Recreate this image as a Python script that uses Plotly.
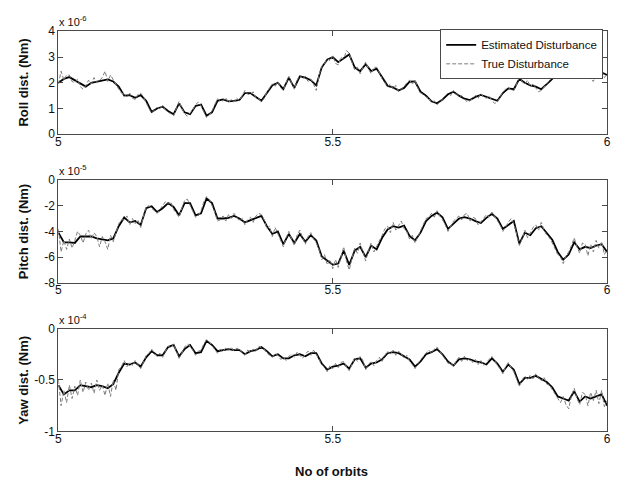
import numpy as np
import plotly.graph_objects as go

# Orbit sample grids (estimator output is coarser than the truth model)
orbits_est = np.round(np.linspace(5.0, 6.0, 101), 3)
orbits_true = np.round(np.linspace(5.0, 6.0, 201), 4)

# Roll disturbance torque, units of 1e-6 Nm
roll_est = [
    2.0, 2.15, 2.22, 2.1, 1.95, 1.85, 2.0, 2.05, 2.1, 2.13,
    2.05, 1.85, 1.5, 1.52, 1.42, 1.52, 1.3, 0.87, 1.0, 1.07,
    0.9, 0.78, 1.2, 0.85, 0.78, 1.1, 1.15, 0.72, 0.85, 1.3,
    1.35, 1.28, 1.3, 1.33, 1.6, 1.6, 1.45, 1.3, 1.6, 1.9,
    2.0, 1.75, 2.2, 1.8, 2.25, 2.2, 2.1, 1.9, 2.6, 2.9,
    3.0, 2.8, 2.95, 3.1, 2.6, 2.45, 2.72, 2.45, 2.55, 2.22,
    1.88, 1.82, 1.7, 1.8, 2.04, 2.05, 1.65, 1.5, 1.28, 1.2,
    1.35, 1.55, 1.65, 1.5, 1.38, 1.33, 1.45, 1.53, 1.45, 1.35,
    1.3, 1.6, 1.78, 1.75, 2.15, 2.0, 1.9, 1.85, 1.75, 1.95,
    2.15, 2.4, 2.55, 2.4, 2.3, 2.35, 2.3, 2.2, 2.3, 2.4, 2.3,
]
roll_true = [
    1.95, 2.45, 2.1, 2.3, 2.3, 2.05, 2.0, 2.15, 1.85, 1.75,
    1.9, 2.1, 1.95, 2.2, 2.0, 2.1, 2.2, 2.45, 2.05, 2.3,
    2.1, 1.95, 1.75, 1.6, 1.55, 1.45, 1.6, 1.4, 1.35, 1.55,
    1.6, 1.45, 1.2, 1.0, 0.82, 0.95, 1.05, 0.98, 1.12, 0.95,
    0.85, 0.8, 0.72, 1.0, 1.28, 1.0, 0.8, 0.7, 0.82, 0.95,
    1.15, 1.25, 1.1, 0.9, 0.65, 0.75, 0.9, 1.15, 1.38, 1.3,
    1.3, 1.42, 1.22, 1.35, 1.25, 1.4, 1.3, 1.5, 1.7, 1.55,
    1.55, 1.65, 1.4, 1.38, 1.25, 1.4, 1.65, 1.8, 1.95, 1.85,
    2.05, 1.8, 1.7, 2.0, 2.25, 2.0, 1.75, 2.1, 2.3, 2.15,
    2.25, 2.05, 2.15, 1.95, 1.7, 2.3, 2.65, 2.75, 2.95, 2.85,
    3.05, 2.75, 2.7, 3.0, 2.9, 3.25, 3.15, 2.8, 2.5, 2.6,
    2.35, 2.6, 2.8, 2.55, 2.35, 2.6, 2.6, 2.4, 2.15, 2.0,
    1.85, 1.95, 1.75, 1.9, 1.65, 1.75, 1.85, 2.0, 2.1, 1.95,
    2.1, 1.8, 1.6, 1.55, 1.45, 1.4, 1.22, 1.3, 1.15, 1.25,
    1.4, 1.5, 1.6, 1.5, 1.7, 1.55, 1.45, 1.5, 1.35, 1.25,
    1.3, 1.42, 1.5, 1.4, 1.58, 1.45, 1.4, 1.5, 1.3, 1.2,
    1.25, 1.45, 1.65, 1.75, 1.82, 1.7, 1.7, 1.95, 2.2, 2.05,
    1.95, 2.1, 1.85, 1.95, 1.8, 1.65, 1.7, 1.85, 2.0, 2.1,
    2.2, 2.3, 2.45, 2.6, 2.6, 2.45, 2.35, 2.2, 2.25, 2.45,
    2.4, 2.2, 2.25, 2.4, 2.15, 2.05, 2.35, 2.5, 2.45, 2.2,
    2.35,
]

# Pitch disturbance torque, units of 1e-5 Nm
pitch_est = [
    -4.1, -4.85, -4.85, -4.9, -4.4, -4.4, -4.4, -4.55, -4.6, -4.7,
    -4.55, -3.6, -2.92, -3.3, -3.2, -3.5, -2.2, -2.05, -2.5, -2.2,
    -1.8, -2.1, -2.75, -1.8, -1.8, -2.75, -2.6, -1.45, -1.8, -3.0,
    -3.0, -2.95, -2.8, -3.0, -3.3, -3.15, -3.0, -2.8, -3.6, -4.2,
    -4.0, -5.0, -4.2, -4.9, -4.2, -4.8, -4.3, -4.7, -5.95, -6.3,
    -6.6, -6.5, -5.5, -6.6, -5.5, -5.2, -6.0, -5.1, -5.4, -4.5,
    -3.85, -3.6, -3.7, -3.55, -4.35, -4.7, -4.1, -3.2, -2.8, -2.55,
    -2.9, -3.8, -3.4, -3.0, -2.9, -3.0, -3.2, -3.35, -2.95, -2.65,
    -3.0, -3.8, -3.5, -3.2, -4.95, -4.1, -4.3, -3.75, -3.6, -4.1,
    -4.65, -5.6, -6.2, -5.8, -4.85, -5.4, -5.2, -5.3, -5.1, -5.0, -5.6,
]
pitch_true = [
    -3.8, -5.6, -4.7, -5.4, -4.6, -5.3, -4.7, -4.0, -4.3, -4.9,
    -4.2, -3.9, -4.6, -4.1, -4.4, -5.2, -4.4, -4.8, -5.4, -4.3,
    -4.8, -4.0, -3.4, -3.1, -3.1, -2.8, -3.5, -3.0, -3.4, -3.1,
    -3.7, -2.8, -2.1, -2.0, -2.2, -2.4, -2.6, -2.3, -2.0, -1.7,
    -1.9, -1.7, -2.3, -2.6, -2.9, -2.2, -1.6, -1.5, -2.0, -2.5,
    -2.9, -2.8, -2.4, -1.7, -1.3, -1.5, -2.0, -2.5, -3.2, -3.1,
    -2.8, -3.2, -2.7, -3.0, -2.6, -2.9, -3.2, -3.0, -3.5, -3.1,
    -2.9, -3.3, -2.8, -2.6, -2.7, -3.1, -3.8, -3.6, -4.4, -3.7,
    -4.2, -4.6, -5.2, -4.5, -4.0, -4.6, -5.1, -4.3, -3.9, -4.5,
    -5.0, -4.4, -4.1, -4.6, -4.9, -5.4, -6.2, -5.8, -6.6, -6.2,
    -6.9, -6.2, -6.8, -6.0, -5.2, -6.3, -7.0, -6.1, -5.3, -5.7,
    -4.9, -5.6, -6.3, -5.5, -4.9, -5.6, -5.2, -4.8, -4.3, -3.8,
    -3.6, -4.1, -3.3, -3.9, -3.5, -3.2, -3.8, -4.0, -4.6, -4.3,
    -4.9, -4.4, -3.9, -3.5, -3.0, -2.9, -2.6, -2.9, -2.4, -2.8,
    -3.1, -3.5, -4.0, -3.6, -3.2, -3.0, -2.8, -3.1, -2.7, -2.6,
    -3.2, -2.9, -3.0, -3.5, -3.2, -3.0, -2.7, -2.9, -2.5, -2.8,
    -3.2, -3.5, -4.0, -3.6, -3.3, -3.0, -3.4, -4.2, -5.1, -4.6,
    -3.9, -4.5, -4.1, -3.7, -3.5, -3.9, -3.3, -3.9, -4.3, -4.5,
    -4.9, -5.3, -5.8, -6.0, -6.5, -5.9, -5.6, -5.1, -4.5, -5.2,
    -5.7, -4.9, -5.0, -5.9, -5.0, -5.6, -4.7, -5.3, -4.8, -5.8,
    -5.4,
]

# Yaw disturbance torque, units of 1e-4 Nm
yaw_est = [
    -0.55, -0.64, -0.6, -0.6, -0.55, -0.56, -0.57, -0.55, -0.56, -0.58,
    -0.54, -0.43, -0.34, -0.35, -0.33, -0.37, -0.28, -0.22, -0.26, -0.26,
    -0.18, -0.16, -0.27, -0.2, -0.16, -0.24, -0.23, -0.12, -0.16, -0.22,
    -0.21, -0.2, -0.21, -0.21, -0.25, -0.22, -0.21, -0.18, -0.22, -0.27,
    -0.25, -0.29, -0.29, -0.26, -0.25, -0.27, -0.24, -0.24, -0.34, -0.4,
    -0.37, -0.36, -0.34, -0.39, -0.3, -0.29, -0.38, -0.34, -0.33, -0.3,
    -0.24, -0.23, -0.24, -0.27, -0.3, -0.37, -0.32, -0.25, -0.23, -0.2,
    -0.25, -0.32, -0.36, -0.3, -0.29, -0.3, -0.32, -0.33, -0.35, -0.29,
    -0.34, -0.42, -0.35, -0.4, -0.54, -0.48, -0.48, -0.46, -0.49, -0.52,
    -0.57, -0.66, -0.68, -0.7, -0.61, -0.71, -0.66, -0.68, -0.66, -0.64, -0.75,
]
yaw_true = [
    -0.5, -0.75, -0.6, -0.72, -0.55, -0.68, -0.56, -0.65, -0.5, -0.62,
    -0.52, -0.6, -0.53, -0.63, -0.5, -0.6, -0.55, -0.65, -0.53, -0.66,
    -0.5, -0.6, -0.4, -0.37, -0.31, -0.37, -0.33, -0.36, -0.31, -0.35,
    -0.39, -0.33, -0.26, -0.24, -0.2, -0.24, -0.27, -0.24, -0.28, -0.22,
    -0.17, -0.19, -0.15, -0.22, -0.29, -0.24, -0.18, -0.15, -0.17, -0.21,
    -0.26, -0.22, -0.21, -0.15, -0.11, -0.13, -0.17, -0.2, -0.24, -0.2,
    -0.22, -0.19, -0.21, -0.18, -0.22, -0.19, -0.2, -0.24, -0.26, -0.21,
    -0.23, -0.2, -0.22, -0.17, -0.19, -0.2, -0.24, -0.26, -0.28, -0.24,
    -0.26, -0.3, -0.28, -0.31, -0.27, -0.25, -0.28, -0.23, -0.26, -0.29,
    -0.25, -0.22, -0.26, -0.21, -0.25, -0.3, -0.35, -0.38, -0.42, -0.36,
    -0.39, -0.34, -0.38, -0.33, -0.32, -0.37, -0.41, -0.35, -0.28, -0.32,
    -0.27, -0.31, -0.4, -0.35, -0.32, -0.36, -0.31, -0.28, -0.32, -0.26,
    -0.22, -0.25, -0.21, -0.26, -0.22, -0.25, -0.29, -0.26, -0.32, -0.35,
    -0.39, -0.34, -0.3, -0.27, -0.24, -0.21, -0.24, -0.2, -0.18, -0.22,
    -0.26, -0.29, -0.34, -0.33, -0.37, -0.31, -0.28, -0.32, -0.27, -0.31,
    -0.29, -0.33, -0.3, -0.35, -0.31, -0.36, -0.33, -0.3, -0.27, -0.31,
    -0.36, -0.39, -0.44, -0.37, -0.33, -0.38, -0.42, -0.49, -0.56, -0.5,
    -0.46, -0.5, -0.45, -0.49, -0.44, -0.48, -0.51, -0.47, -0.54, -0.55,
    -0.59, -0.63, -0.68, -0.72, -0.66, -0.74, -0.78, -0.65, -0.58, -0.68,
    -0.74, -0.62, -0.64, -0.75, -0.62, -0.7, -0.6, -0.73, -0.6, -0.76,
    -0.7,
]

panel_titles = ["Roll dist. (Nm)", "Pitch dist. (Nm)", "Yaw dist. (Nm)"]
panel_exponents = ["-6", "-5", "-4"]
panel_ranges = [[0, 4], [-8, 0], [-1, 0]]
panel_ticks = [[0, 1, 2, 3, 4], [-8, -6, -4, -2, 0], [-1, -0.5, 0]]
orbit_ticks = [5, 5.5, 6]
series_names = ["Estimated Disturbance", "True Disturbance"]

W, H = 622, 488
left_px, right_px = 56, 611
panel_px = [(25, 131), (178, 284), (331, 437)]  # (top, bottom) in pixels

est_data = [roll_est, pitch_est, yaw_est]
true_data = [roll_true, pitch_true, yaw_true]

FONT = "Arial, Liberation Sans, Helvetica, sans-serif"
AXCOL = "#4a4a4a"

fig = go.Figure()
layout = dict(
    width=W, height=H,
    margin=dict(l=0, r=0, t=0, b=0),
    paper_bgcolor="white", plot_bgcolor="white",
    font=dict(family=FONT, size=12, color="#111"),
    showlegend=True,
    legend=dict(
        x=607 / W, y=1 - 23 / H, xanchor="right", yanchor="top",
        bgcolor="white", bordercolor=AXCOL, borderwidth=1,
        font=dict(family=FONT, size=11.5, color="#111"),
        itemwidth=30, tracegroupgap=0,
    ),
)

annotations = []
for k in range(3):
    sfx = "" if k == 0 else str(k + 1)
    xa, ya = "x" + sfx, "y" + sfx
    fig.add_trace(go.Scatter(
        x=orbits_est, y=est_data[k], mode="lines", xaxis=xa, yaxis=ya,
        name=series_names[0], showlegend=(k == 0), legendgroup="est",
        line=dict(color="black", width=1.8),
    ))
    fig.add_trace(go.Scatter(
        x=orbits_true, y=true_data[k], mode="lines", xaxis=xa, yaxis=ya,
        name=series_names[1], showlegend=(k == 0), legendgroup="true",
        line=dict(color="#7c7c7c", width=1, dash="4px,2px"),
    ))
    top, bot = panel_px[k]
    common = dict(
        showline=True, linecolor=AXCOL, linewidth=1, mirror="ticks",
        ticks="inside", ticklen=5, tickcolor=AXCOL, showgrid=False,
        zeroline=False, tickfont=dict(family=FONT, size=12, color="#111"),
    )
    layout["xaxis" + sfx] = dict(
        domain=[left_px / W, right_px / W], range=[5, 6], anchor=ya,
        tickvals=orbit_ticks, ticktext=[f"{t:g}" for t in orbit_ticks],
        ticklabelstandoff=-4, **common,
    )
    layout["yaxis" + sfx] = dict(
        domain=[1 - bot / H, 1 - top / H], range=panel_ranges[k], anchor=xa,
        tickvals=panel_ticks[k], ticktext=[f"{t:g}" for t in panel_ticks[k]],
        **common,
    )
    annotations.append(dict(
        text=f"x 10<sup>{panel_exponents[k]}</sup>", xref="paper", yref="paper",
        x=(left_px - 1) / W, y=1 - (top - 1) / H, xanchor="left", yanchor="bottom",
        showarrow=False, font=dict(family=FONT, size=11, color="#111"),
    ))
    annotations.append(dict(
        text=f"<b>{panel_titles[k]}</b>", xref="paper", yref="paper",
        x=21 / W, y=1 - (top + bot) / 2 / H, xanchor="center", yanchor="middle",
        textangle=-90, showarrow=False,
        font=dict(family=FONT, size=13, color="#111"),
    ))

annotations.append(dict(
    text="<b>No of orbits</b>", xref="paper", yref="paper",
    x=332 / W, y=1 - 478 / H, xanchor="center", yanchor="middle",
    showarrow=False, font=dict(family=FONT, size=13, color="#111"),
))
layout["annotations"] = annotations
fig.update_layout(**layout)

fig.write_html("out.html")
